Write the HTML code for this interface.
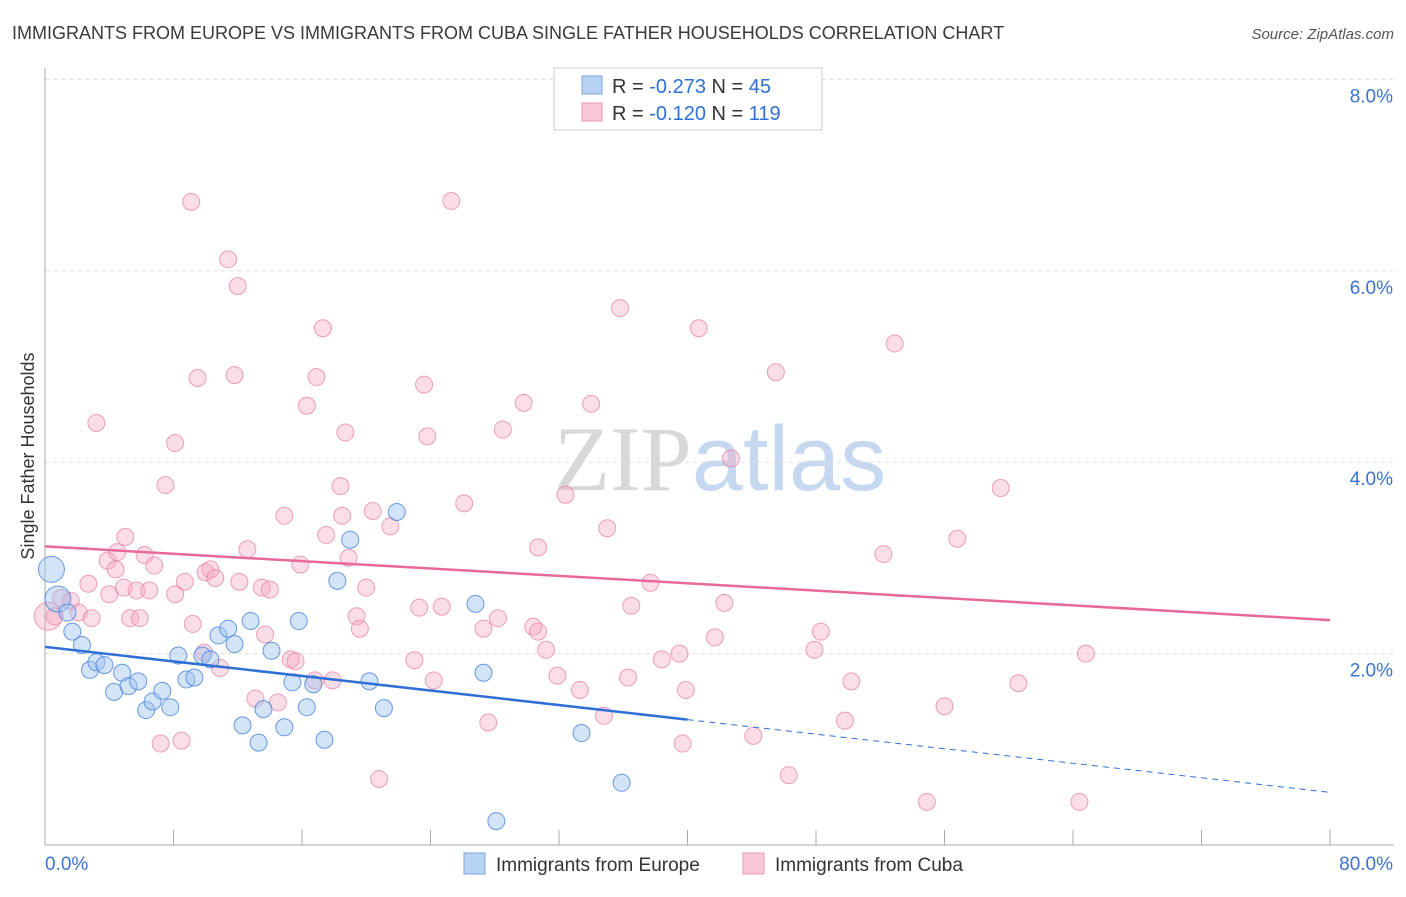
<!DOCTYPE html>
<html><head><meta charset="utf-8"><style>
body{margin:0;background:#fff;font-family:"Liberation Sans",sans-serif}
svg text{font-family:"Liberation Sans",sans-serif}
</style></head><body>
<svg id="chart" width="1406" height="892" xmlns="http://www.w3.org/2000/svg">
<text x="12" y="39" font-size="18" fill="#3a3a3a">IMMIGRANTS FROM EUROPE VS IMMIGRANTS FROM CUBA SINGLE FATHER HOUSEHOLDS CORRELATION CHART</text>
<text x="1394" y="39" font-size="15" fill="#555" text-anchor="end" font-style="italic">Source: ZipAtlas.com</text>
<text x="720" y="490" font-size="92" text-anchor="middle"><tspan fill="#d8d8d8" font-family="Liberation Serif">ZIP</tspan><tspan fill="#c5d8f0">atlas</tspan></text>
<g id="grid"></g><g id="axes"></g><g id="pts"></g><g id="trend"></g>
<text transform="translate(34,456) rotate(-90)" font-size="18" fill="#333" text-anchor="middle">Single Father Households</text>
<g>
<rect x="554" y="68" width="268" height="62" fill="#fff" stroke="#ccc"/>
<rect x="582" y="76" width="20" height="18" fill="#b8d2f4" stroke="#7aa6e0"/>
<rect x="582" y="103" width="20" height="18" fill="#f9c6d5" stroke="#ec9ab4"/>
<text x="612" y="93" font-size="20" fill="#333">R = <tspan fill="#2f6fd6">-0.273</tspan>   N =  <tspan fill="#2f6fd6">45</tspan></text>
<text x="612" y="120" font-size="20" fill="#333">R = <tspan fill="#2f6fd6">-0.120</tspan>   N = <tspan fill="#2f6fd6">119</tspan></text>
</g>
<g>
<rect x="464" y="853" width="21" height="21" fill="#b8d2f4" stroke="#7aa6e0"/>
<text x="496" y="871" font-size="19" fill="#333">Immigrants from Europe</text>
<rect x="743" y="853" width="21" height="21" fill="#f9c6d5" stroke="#ec9ab4"/>
<text x="775" y="871" font-size="19" fill="#333">Immigrants from Cuba</text>
</g>
</svg>
<script>
const xTicks=[0,8,16,24,32,40,48,56,64,72,80];
const yTicks=[2,4,6,8];
const yTickLabels=["2.0%","4.0%","6.0%","8.0%"];
const europeX=[0.4,0.8,1.4,1.7,2.3,2.8,3.2,3.7,4.3,4.8,5.2,5.8,6.3,6.7,7.3,7.8,8.3,8.8,9.3,9.8,10.3,10.8,11.4,11.8,12.3,12.8,13.3,13.6,14.1,14.9,15.4,15.8,16.3,16.7,17.4,18.2,19.0,20.2,21.1,21.9,26.8,27.3,28.1,33.4,35.9];
const europeY=[2.88,2.57,2.43,2.23,2.09,1.83,1.91,1.88,1.60,1.80,1.66,1.71,1.41,1.50,1.61,1.44,1.98,1.73,1.75,1.98,1.94,2.19,2.26,2.10,1.25,2.34,1.07,1.42,2.03,1.23,1.70,2.34,1.44,1.68,1.10,2.76,3.19,1.71,1.43,3.48,2.52,1.80,0.25,1.17,0.65];
const cubaX=[0.2,0.6,1.0,1.6,2.1,2.9,2.7,3.2,3.9,4.0,4.5,4.4,4.9,5.0,5.3,5.7,5.9,6.2,6.5,6.8,7.2,7.5,8.1,8.1,8.5,8.7,9.1,9.2,9.5,9.9,10.0,10.3,10.6,10.9,11.4,11.8,12.0,12.1,12.6,13.1,13.5,13.7,14.0,14.5,14.9,15.3,15.6,15.9,16.3,16.8,16.9,17.3,17.5,17.9,18.4,18.5,18.7,18.9,19.4,19.6,20.0,20.4,20.8,21.5,23.0,23.3,23.6,23.8,24.2,24.7,25.3,26.1,27.3,27.6,28.2,28.5,29.8,30.4,30.7,30.7,31.2,31.9,32.4,33.3,34.0,34.8,35.0,35.8,36.3,36.5,37.7,38.4,39.5,39.7,39.9,40.7,41.7,42.3,42.7,44.1,45.5,46.3,47.9,48.3,49.8,50.2,52.2,52.9,54.9,56.0,56.8,59.5,60.6,64.8,64.4];
const cubaY=[2.39,2.39,2.58,2.55,2.43,2.37,2.73,4.41,2.97,2.62,3.06,2.88,2.69,3.22,2.37,2.66,2.37,3.03,2.66,2.92,1.06,3.76,4.20,2.62,1.09,2.75,6.72,2.31,4.88,2.01,2.85,2.88,2.79,1.85,6.12,4.91,5.84,2.75,3.09,1.53,2.69,2.20,2.67,1.49,3.44,1.94,1.92,2.93,4.59,1.72,4.89,5.40,3.24,1.72,3.75,3.44,4.31,3.00,2.39,2.26,2.69,3.49,0.69,3.33,1.93,2.48,4.81,4.27,1.72,2.49,6.73,3.57,2.26,1.28,2.37,4.34,4.62,2.28,3.11,2.23,2.04,1.77,3.66,1.62,4.61,1.35,3.31,5.61,1.75,2.50,2.74,1.94,2.00,1.06,1.62,5.40,2.17,2.53,4.04,1.14,4.94,0.73,2.04,2.23,1.30,1.71,3.04,5.24,0.45,1.45,3.20,3.73,1.69,2.00,0.45];
const europeTrend=[2.07,0.55];
const cubaTrend=[3.12,2.35];
const NS="http://www.w3.org/2000/svg";
const X=v=>45+v/80*1285, Y=v=>845-v*95.7;
function mk(tag,attrs,parent){const e=document.createElementNS(NS,tag);for(const k in attrs)e.setAttribute(k,attrs[k]);document.getElementById(parent).appendChild(e);return e;}
yTicks.forEach((t,i)=>{
 const l=mk('line',{x1:45,x2:1394,y1:Y(t),y2:Y(t),stroke:'#ddd','stroke-dasharray':'4,4'},'grid');
 
 
 const tx=mk('text',{x:1393,y:Y(t)+23,'font-size':19,fill:'#3b73d1','text-anchor':'end'},'axes');
 tx.textContent=yTickLabels[i];
 
 
});
const ax=mk('line',{x1:45,x2:45,y1:68,y2:845,stroke:'#aaa'},'axes');


const bx=mk('line',{x1:45,x2:1394,y1:845,y2:845,stroke:'#aaa'},'axes');


xTicks.forEach(t=>{
 const l=mk('line',{x1:X(t),x2:X(t),y1:830,y2:845,stroke:'#aaa'},'axes');
 
 
});
const x0=mk('text',{x:45,y:870,'font-size':19,fill:'#3b73d1'},'axes');x0.textContent='0.0%';


const x1=mk('text',{x:1393,y:870,'font-size':19,fill:'#3b73d1','text-anchor':'end'},'axes');x1.textContent='80.0%';


cubaX.forEach((v,i)=>{
 const c=mk('circle',{cx:X(v),cy:Y(cubaY[i]),r:i==0?14:8.5,fill:'rgba(245,170,195,0.4)',stroke:'rgba(230,130,165,0.75)','stroke-width':1},'pts');
 
 
});
europeX.forEach((v,i)=>{
 const c=mk('circle',{cx:X(v),cy:Y(europeY[i]),r:i<2?13:8.5,fill:'rgba(160,195,240,0.45)',stroke:'rgba(70,130,220,0.8)','stroke-width':1},'pts');
 
 
});
const ey=x=>europeTrend[0]+(europeTrend[1]-europeTrend[0])*x/80;
const t1=mk('line',{x1:X(0),y1:Y(ey(0)),x2:X(40),y2:Y(ey(40)),stroke:'#2f6fd6','stroke-width':2.5},'trend');


const t2=mk('line',{x1:X(40),y1:Y(ey(40)),x2:X(80),y2:Y(ey(80)),stroke:'#2f6fd6','stroke-width':1,'stroke-dasharray':'6,5'},'trend');


const t3=mk('line',{x1:X(0),y1:Y(cubaTrend[0]),x2:X(80),y2:Y(cubaTrend[1]),stroke:'#e8699a','stroke-width':2.5},'trend');


</script>
</body></html>
